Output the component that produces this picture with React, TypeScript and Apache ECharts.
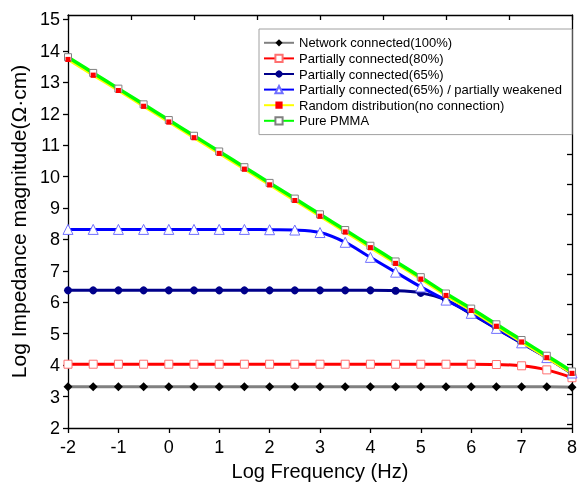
import React, { useEffect, useRef } from "react";
import * as echarts from "echarts";

const xValues = [-2, -1.5, -1, -0.5, 0, 0.5, 1, 1.5, 2, 2.5, 3, 3.5, 4, 4.5, 5, 5.5, 6, 6.5, 7, 7.5, 8];

const network100 = [3.31, 3.31, 3.31, 3.31, 3.31, 3.31, 3.31, 3.31, 3.31, 3.31, 3.31, 3.31, 3.31, 3.31, 3.31, 3.31, 3.31, 3.31, 3.31, 3.31, 3.3];
const partial80 = [4.03, 4.03, 4.03, 4.03, 4.03, 4.03, 4.03, 4.03, 4.03, 4.03, 4.03, 4.03, 4.03, 4.03, 4.03, 4.03, 4.03, 4.02, 3.98, 3.85, 3.6];
const partial65 = [6.38, 6.38, 6.38, 6.38, 6.38, 6.38, 6.38, 6.38, 6.38, 6.38, 6.38, 6.38, 6.38, 6.37, 6.3, 6.07, 5.63, 5.16, 4.7, 4.24, 3.73];
const weakened65 = [8.32, 8.32, 8.32, 8.32, 8.32, 8.32, 8.32, 8.32, 8.31, 8.3, 8.22, 7.91, 7.43, 6.96, 6.49, 6.07, 5.65, 5.17, 4.71, 4.24, 3.75];
const randomDist = [13.73, 13.23, 12.74, 12.24, 11.74, 11.24, 10.74, 10.24, 9.74, 9.24, 8.74, 8.24, 7.74, 7.24, 6.74, 6.22, 5.74, 5.24, 4.74, 4.24, 3.74];
const purePMMA = [13.8, 13.3, 12.8, 12.3, 11.8, 11.3, 10.8, 10.3, 9.8, 9.3, 8.8, 8.3, 7.8, 7.3, 6.8, 6.28, 5.8, 5.3, 4.8, 4.3, 3.8];

const seriesNames = [
  "Network connected(100%)",
  "Partially connected(80%)",
  "Partially connected(65%)",
  "Partially connected(65%) / partially weakened",
  "Random distribution(no connection)",
  "Pure PMMA",
];

const yTickLabels = [2, 3, 4, 5, 6, 7, 8, 9, 10, 11, 12, 13, 14, 15];
const xTickLabels = [-2, -1, 0, 1, 2, 3, 4, 5, 6, 7, 8];

const xTitle = "Log Frequency (Hz)";
const yTitle = "Log Impedance magnitude(Ω·cm)";

const pairs = (ys: number[]) => ys.map((y, i) => [xValues[i], y]);

export default function App() {
  const ref = useRef<HTMLDivElement>(null);
  useEffect(() => {
    if (!ref.current) return;
    const chart = echarts.init(ref.current, undefined, { renderer: "svg" });
    const font = "Liberation Sans";
    const yMin = 2;
    const yMax = 15.143;
    // right frame ticks (decorative frame ticks, evenly spaced)
    const rightTicks = Array.from({ length: 14 }, (_, k) => 2.127 + k * 0.954);

    const lineBase = (name: string, data: number[], lineColor: string, width: number, symbol: string, size: number, fill: string, border: string, borderW: number) => ({
      name,
      type: "line",
      data: pairs(data),
      smooth: 0.4,
      symbol,
      symbolSize: size,
      showAllSymbol: true,
      lineStyle: { color: lineColor, width },
      itemStyle: { color: fill, borderColor: border, borderWidth: borderW },
      emphasis: { disabled: true },
    });

    const option: any = {
      animation: false,
      textStyle: { fontFamily: font },
      grid: { left: 68, right: 3, top: 15, bottom: 58 },
      legend: {
        data: seriesNames,
        orient: "vertical",
        left: 259,
        top: 29,
        padding: [6, 10, 6, 4],
        itemGap: 0,
        itemWidth: 30,
        itemHeight: 9,
        backgroundColor: "#ffffff",
        borderColor: "#a0a0a0",
        borderWidth: 1,
        borderRadius: 0,
        textStyle: { fontFamily: font, fontSize: 13, color: "#000", lineHeight: 15.6 },
      },
      xAxis: [
        {
          type: "value",
          min: -2,
          max: 8,
          interval: 1,
          position: "bottom",
          name: xTitle,
          nameLocation: "middle",
          nameGap: 33,
          nameTextStyle: { fontFamily: font, fontSize: 20, color: "#000" },
          axisLine: { show: true, onZero: false, lineStyle: { color: "#000", width: 1.3 } },
          axisTick: { show: true, inside: false, length: 5, lineStyle: { color: "#000", width: 1.3 } },
          axisLabel: { fontFamily: font, fontSize: 18, color: "#000", margin: 10, customValues: xTickLabels },
          splitLine: { show: false },
        },
        {
          type: "value",
          min: 0,
          max: 8,
          interval: 1,
          position: "top",
          axisLine: { show: true, onZero: false, lineStyle: { color: "#000", width: 1.3 } },
          axisTick: { show: true, inside: true, length: 5, lineStyle: { color: "#000", width: 1.3 } },
          axisLabel: { show: false },
          splitLine: { show: false },
        },
      ],
      yAxis: [
        {
          type: "value",
          min: yMin,
          max: yMax,
          position: "left",
          name: yTitle,
          nameLocation: "middle",
          nameGap: 33,
          nameRotate: 90,
          nameTextStyle: { fontFamily: font, fontSize: 21, color: "#000" },
          axisLine: { show: true, onZero: false, lineStyle: { color: "#000", width: 1.3 } },
          axisTick: { show: true, inside: false, length: 5, customValues: yTickLabels, lineStyle: { color: "#000", width: 1.3 } },
          axisLabel: { fontFamily: font, fontSize: 18, color: "#000", margin: 8, customValues: yTickLabels },
          splitLine: { show: false },
        },
        {
          type: "value",
          min: yMin,
          max: yMax,
          position: "right",
          axisLine: { show: true, onZero: false, lineStyle: { color: "#000", width: 1.3 } },
          axisTick: { show: true, inside: true, length: 5, customValues: rightTicks, lineStyle: { color: "#000", width: 1.3 } },
          axisLabel: { show: false },
          splitLine: { show: false },
        },
      ],
      series: [
        { ...lineBase(seriesNames[0], network100, "#808080", 3, "diamond", 9, "#000000", "#000000", 0), z: 2 },
        { ...lineBase(seriesNames[1], partial80, "#ff0000", 3, "rect", 8, "#ffffff", "#ff7070", 1), z: 2 },
        { ...lineBase(seriesNames[2], partial65, "#00008b", 3, "circle", 8, "#00008b", "#00008b", 0), z: 2 },
        { ...lineBase(seriesNames[3], weakened65, "#0000ff", 3, "triangle", 10, "#ffffff", "#6f6fff", 1), z: 2 },
        { ...lineBase(seriesNames[4], randomDist, "#ffff00", 3, "rect", 5, "#ff0000", "#ff0000", 0), z: 3 },
        { ...lineBase(seriesNames[5], purePMMA, "#00ff00", 3.5, "rect", 7, "#ffffff", "#808080", 1), z: 4 },
        {
          name: "random-markers",
          type: "line",
          data: pairs(randomDist),
          symbol: "rect",
          symbolSize: 5,
          showAllSymbol: true,
          lineStyle: { width: 0, opacity: 0 },
          itemStyle: { color: "#ff0000" },
          z: 5,
          emphasis: { disabled: true },
        },
      ],
    };
    chart.setOption(option);
    return () => chart.dispose();
  }, []);
  return <div ref={ref} style={{ position: "fixed", left: 0, top: 0, width: 580, height: 486 }} />;
}
